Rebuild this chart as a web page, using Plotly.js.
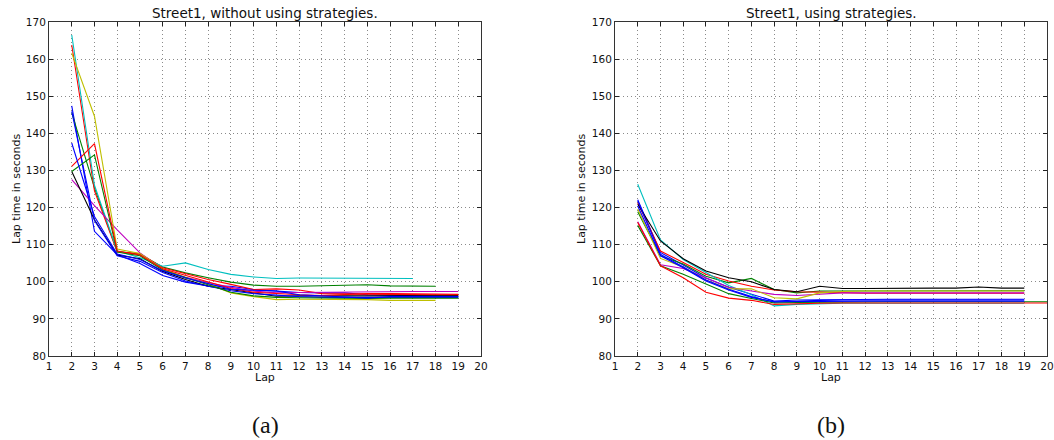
<!DOCTYPE html>
<html>
<head>
<meta charset="utf-8">
<script src="https://cdn.plot.ly/plotly-3.0.1.min.js"></script>
<style>
html,body{margin:0;padding:0;background:#fff;}
#chart{width:1054px;height:440px;}
</style>
</head>
<body>
<div id="chart"></div>
<script>
// Lap numbers (first recorded lap is 2)
const firstLap = 2;
const xTicks = [1,2,3,4,5,6,7,8,9,10,11,12,13,14,15,16,17,18,19,20];
const yTicks = [80,90,100,110,120,130,140,150,160,170];

// (a) Street1, without using strategies — lap times (s) from lap 2
const leftCyan    = [166.5,126.0,108.3,106.5,104.2,105.1,103.3,102.0,101.3,100.9,101.0,101.0,101.1,101.0,100.9,100.9];
const leftRed     = [163.8,124.5,108.0,107.6,103.8,102.2,100.6,99.3,97.9,98.1,97.8,96.8,96.7,96.7,96.5,96.4,96.4,96.4];
const leftYellow  = [161.6,144.6,108.8,107.6,103.5,101.0,99.5,97.0,96.0,95.2,95.3,95.3,95.2,95.2,95.0,94.9,95.0];
const leftBlueA   = [147.4,113.6,107.3,104.9,101.7,99.9,98.9,98.8,97.9,97.5,97.1,97.0,97.0,96.5,96.4,96.3,96.1,96.0];
const leftBlueB   = [145.9,116.5,107.0,105.5,102.5,100.2,98.8,97.6,96.8,96.3,96.0,95.8,95.8,95.8,95.8,95.8,95.8,95.8];
const leftGreenA  = [145.6,125.3,108.2,107.4,104.0,102.4,101.1,99.9,99.1,98.8,98.8,98.9,98.9,99.2,98.9,98.8,98.8];
const leftBlueC   = [137.4,117.6,107.5,106.0,103.0,101.0,99.5,98.0,97.7,97.5,96.5,96.2,96.0,95.6,96.0,96.0,96.0,96.0];
const leftRedB    = [131.1,137.2,108.3,107.2,103.5,101.7,100.0,98.2,97.2,96.8,96.5,96.3,96.6,96.8,96.8,96.7,96.6,96.6];
const leftGreenB  = [129.7,134.2,108.0,107.0,103.2,101.2,99.2,97.2,96.2,95.8,95.7,95.6,95.5,95.5,95.6,95.6,95.6,95.6];
const leftBlack   = [129.7,116.7,107.2,106.2,102.8,100.6,98.8,97.9,96.9,96.1,96.2,96.2,96.2,96.3,96.2,96.2,96.2,96.2];
const leftMagenta = [127.5,120.5,114.0,107.8,103.3,101.2,99.8,98.5,97.5,97.0,97.1,97.2,97.2,97.3,97.3,97.4,97.4,97.4];

// (b) Street1, using strategies — lap times (s) from lap 2
const rightCyan    = [126.3,111.3,106.0,102.5,99.0,96.5,93.5,93.9,94.1,94.2,94.2,94.2,94.2,94.2,94.2,94.2,94.2,94.2];
const rightBlue    = [122.1,107.9,104.5,101.0,98.5,96.6,94.8,95.1,95.2,95.3,95.3,95.3,95.3,95.3,95.3,95.3,95.3,95.3];
const rightBlueB   = [121.8,107.4,104.0,100.5,98.0,96.0,94.5,94.8,95.0,95.1,95.1,95.1,95.1,95.1,95.1,95.1,95.1,95.1];
const rightRed     = [121.3,108.3,105.2,102.0,100.2,98.8,97.8,97.3,97.2,97.0,96.9,96.9,96.9,96.9,96.9,96.9,96.9,96.9];
const rightBlack   = [120.9,111.0,106.2,102.9,101.1,100.0,97.9,97.3,98.8,98.2,98.2,98.3,98.3,98.3,98.3,98.6,98.3,98.3];
const rightNavy    = [120.4,107.0,103.8,100.2,97.8,95.8,94.6,94.7,94.8,94.8,94.8,94.8,94.8,94.8,94.8,94.8,94.8,94.8];
const rightYellow  = [119.6,106.3,104.0,100.5,98.1,98.1,95.7,95.4,97.0,97.4,97.5,97.5,97.5,97.5,97.5,97.5,97.5,97.5];
const rightGreen   = [118.9,107.0,104.8,101.5,99.7,100.9,97.9,97.0,97.5,97.5,97.6,97.6,97.6,97.6,97.6,97.6,97.6,97.6];
const rightMagenta = [116.2,104.6,103.6,101.0,98.5,97.5,96.6,96.3,96.6,97.0,97.0,97.0,97.0,97.0,97.0,97.0,97.0,97.0];
const rightRedB    = [116.0,104.3,101.1,97.2,95.6,95.0,93.9,94.1,94.2,94.3,94.3,94.3,94.3,94.3,94.3,94.3,94.3,94.3,94.3];
const rightGreenB  = [115.2,104.3,102.0,99.3,96.8,95.5,94.3,94.4,94.5,94.6,94.6,94.6,94.6,94.6,94.6,94.6,94.6,94.6,94.6];

const C = {b:'#0000ff', g:'#008000', r:'#ff0000', c:'#00bfbf', m:'#bf00bf', y:'#bfbf00', k:'#000000'};

const leftSeries = [
  [leftBlueA,C.b],[leftGreenA,C.g],[leftRed,C.r],[leftCyan,C.c],[leftMagenta,C.m],[leftYellow,C.y],[leftBlack,C.k],
  [leftBlueB,C.b],[leftGreenB,C.g],[leftRedB,C.r],[leftBlueC,C.b]
];
const rightSeries = [
  [rightBlue,C.b],[rightGreen,C.g],[rightRed,C.r],[rightCyan,C.c],[rightMagenta,C.m],[rightYellow,C.y],[rightBlack,C.k],
  [rightBlueB,C.b],[rightGreenB,C.g],[rightRedB,C.r],[rightNavy,C.b]
];

function lapsFor(arr){ return arr.map((_,i)=>firstLap+i); }

const traces = [];
leftSeries.forEach(([v,col])=>traces.push({x:lapsFor(v),y:v,type:'scatter',mode:'lines',line:{color:col,width:1.1},xaxis:'x',yaxis:'y',showlegend:false,hoverinfo:'skip'}));
rightSeries.forEach(([v,col])=>traces.push({x:lapsFor(v),y:v,type:'scatter',mode:'lines',line:{color:col,width:1.1},xaxis:'x2',yaxis:'y2',showlegend:false,hoverinfo:'skip'}));

const W = 1054;
const font = {family:'DejaVu Sans, sans-serif', size:10.5, color:'#111'};
const labelFont = {family:'DejaVu Sans, sans-serif', size:11, color:'#111'};
const gridStyle = {showgrid:true, gridcolor:'#8a8a8a', griddash:'1px,3px', gridwidth:1};
function xa(dom){ return Object.assign({domain:dom, range:[1,20], tickvals:xTicks, ticktext:xTicks.map(String), ticks:'inside', ticklen:4, tickcolor:'#222',
  showline:true, linecolor:'#333', linewidth:1, mirror:'ticks', zeroline:false, tickfont:font, fixedrange:true}, gridStyle); }
function ya(anchor){ return Object.assign({anchor:anchor, domain:[0,1], range:[80,170], tickvals:yTicks, ticktext:yTicks.map(String), ticks:'inside', ticklen:4, tickcolor:'#222',
  showline:true, linecolor:'#333', linewidth:1, mirror:'ticks', zeroline:false, tickfont:font, fixedrange:true}, gridStyle); }

const dL = [49/W, 481/W], dR = [615/W, 1047/W];
const midL = (dL[0]+dL[1])/2, midR = (dR[0]+dR[1])/2;

function note(text, x, y, f, extra){ return Object.assign({text:text, x:x, y:y, xanchor:'center', yanchor:'middle', xref:'paper', yref:'paper', showarrow:false, font:f}, extra||{}); }
const titleFont = {family:'DejaVu Sans, sans-serif', size:13.5, color:'#111'};
const capFont = {family:'Liberation Serif, DejaVu Serif, serif', size:24, color:'#111'};

const ann = [
  note('Street1, without using strategies.', midL, (356-12.5)/334, titleFont),
  note('Street1, using strategies.', midR, (356-12.5)/334, titleFont),
  note('Lap', midL, (356-377.5)/334, labelFont),
  note('Lap', midR, (356-377.5)/334, labelFont),
  note('Lap time in seconds', 16/W, 0.5, labelFont, {textangle:-90}),
  note('Lap time in seconds', 581/W, 0.5, labelFont, {textangle:-90}),
  note('(a)', midL, (356-425)/334, capFont),
  note('(b)', midR, (356-425)/334, capFont)
];

const layout = {
  width:1054, height:440,
  margin:{l:0, r:0, t:22, b:84},
  paper_bgcolor:'#fff', plot_bgcolor:'#fff',
  xaxis:Object.assign(xa(dL),{anchor:'y'}),
  yaxis:ya('x'),
  xaxis2:Object.assign(xa(dR),{anchor:'y2'}),
  yaxis2:ya('x2'),
  annotations:ann,
  showlegend:false
};

Plotly.newPlot('chart', traces, layout, {staticPlot:true, displayModeBar:false});
</script>
</body>
</html>
